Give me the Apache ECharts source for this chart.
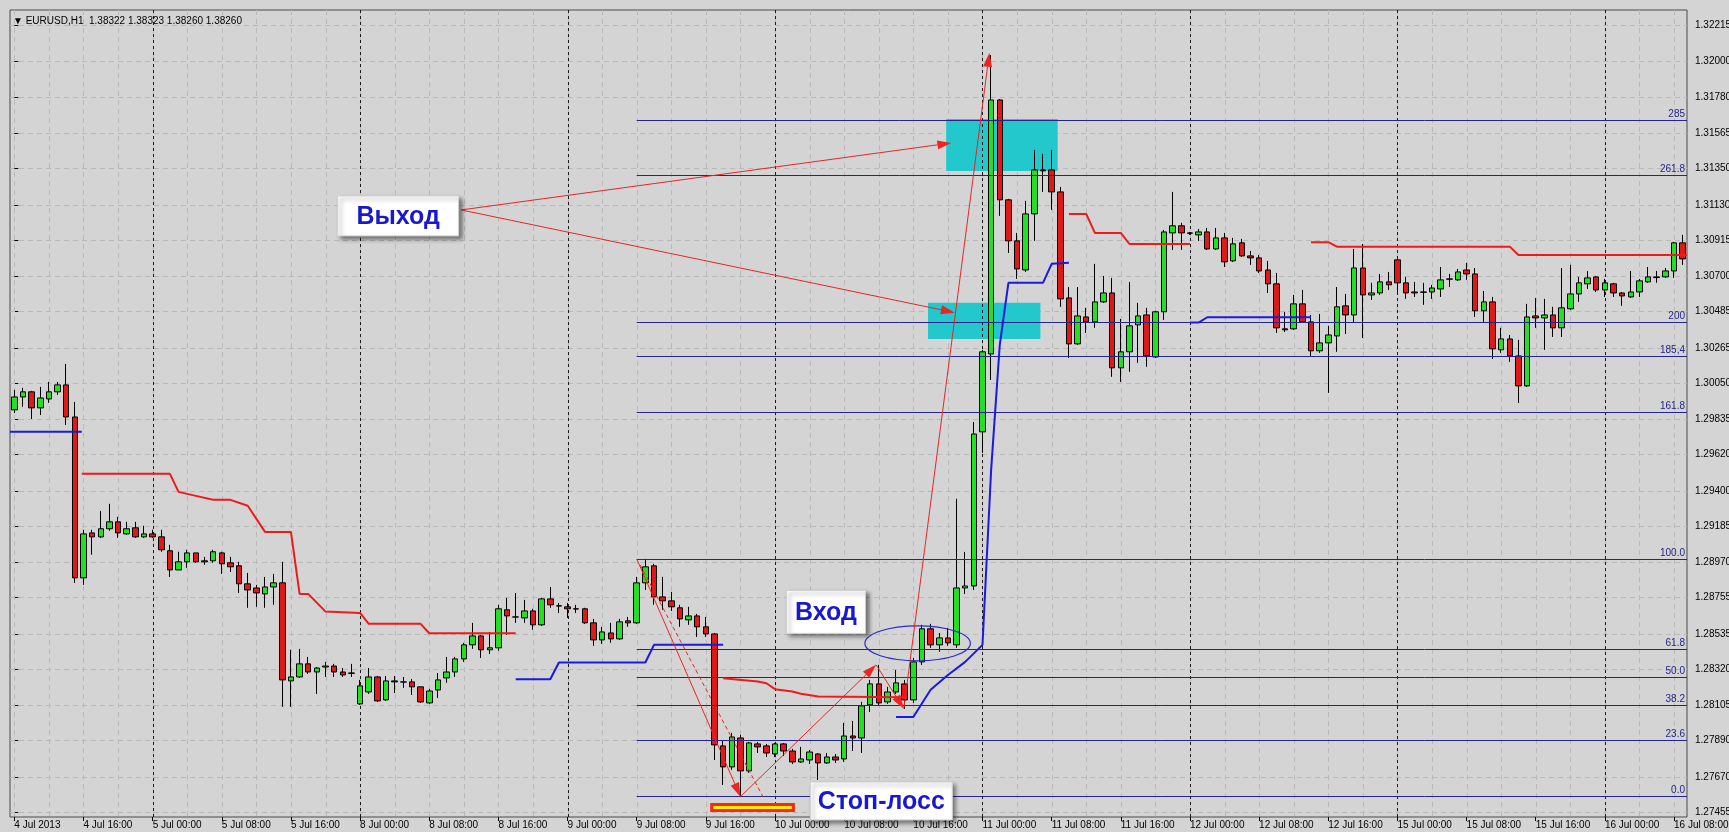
<!DOCTYPE html>
<html>
<head>
<meta charset="utf-8">
<script src="https://cdn.jsdelivr.net/npm/echarts@6/dist/echarts.min.js"></script>
<style>
html,body{margin:0;padding:0;background:#d4d4d4}
#main{width:1729px;height:832px}
</style>
</head>
<body>
<div id="main"></div>
<script>
// EURUSD H1, 4 Jul 08:00 .. 16 Jul 09:00
var days = ['4 Jul', '5 Jul', '8 Jul', '9 Jul', '10 Jul', '11 Jul', '12 Jul', '15 Jul', '16 Jul'];
var firstHour = 8, lastHour = 9;

var open = [1.29890,1.29968,1.29999,1.29902,1.29956,1.29999,1.30041,1.29847,1.28874,1.29146,
1.29122,1.29171,1.29213,1.29140,1.29177,1.29122,1.29140,1.29122,1.29038,1.28922,
1.28971,1.29025,1.28977,1.28977,1.29025,1.28965,1.28947,1.28838,1.28813,1.28777,
1.28819,1.28844,1.28251,1.28275,1.28354,1.28305,1.28335,1.28341,1.28305,1.28299,
1.28112,1.28184,1.28275,1.28136,1.28251,1.28245,1.28245,1.28215,1.28118,1.28196,
1.28269,1.28305,1.28384,1.28469,1.28523,1.28439,1.28451,1.28681,1.28638,1.28632,
1.28674,1.28590,1.28747,1.28705,1.28699,1.28687,1.28687,1.28602,1.28499,1.28541,
1.28505,1.28614,1.28602,1.28844,1.28947,1.28759,1.28735,1.28693,1.28620,1.28644,
1.28578,1.28535,1.27858,1.27731,1.27906,1.27707,1.27870,1.27858,1.27809,1.27870,
1.27827,1.27761,1.27773,1.27809,1.27755,1.27791,1.27779,1.27918,1.27906,1.28106,
1.28233,1.28124,1.28184,1.28233,1.28136,1.28366,1.28566,1.28469,1.28511,1.28469,
1.28813,1.28825,1.29757,1.30228,1.31764,1.31160,1.30912,1.30736,1.31075,1.31341,
1.31341,1.31208,1.30567,1.30289,1.30452,1.30422,1.30543,1.30597,1.30144,1.30241,
1.30404,1.30464,1.30210,1.30483,1.30960,1.31003,1.30960,1.30948,1.30966,1.30863,
1.30930,1.30791,1.30900,1.30821,1.30809,1.30736,1.30652,1.30380,1.30380,1.30531,
1.30422,1.30247,1.30295,1.30337,1.30519,1.30464,1.30748,1.30585,1.30597,1.30664,
1.30797,1.30658,1.30603,1.30603,1.30603,1.30621,1.30682,1.30676,1.30736,1.30712,
1.30489,1.30543,1.30253,1.30319,1.30216,1.30035,1.30458,1.30446,1.30464,1.30386,
1.30501,1.30591,1.30652,1.30694,1.30615,1.30652,1.30597,1.30573,1.30603,1.30664,
1.30690,1.30694,1.30730,1.30900];

var close = [1.29968,1.29999,1.29902,1.29962,1.29999,1.30041,1.29847,1.28874,1.29140,1.29122,
1.29171,1.29213,1.29146,1.29171,1.29122,1.29140,1.29122,1.29044,1.28922,1.28971,
1.29025,1.28971,1.28971,1.29032,1.28959,1.28941,1.28838,1.28801,1.28783,1.28819,
1.28844,1.28257,1.28275,1.28354,1.28305,1.28329,1.28341,1.28305,1.28287,1.28297,
1.28221,1.28275,1.28130,1.28251,1.28245,1.28244,1.28215,1.28124,1.28190,1.28257,
1.28305,1.28384,1.28469,1.28523,1.28439,1.28451,1.28687,1.28644,1.28637,1.28674,
1.28590,1.28747,1.28711,1.28704,1.28687,1.28686,1.28602,1.28499,1.28547,1.28505,
1.28608,1.28602,1.28844,1.28941,1.28759,1.28735,1.28699,1.28626,1.28644,1.28578,
1.28535,1.27864,1.27731,1.27912,1.27707,1.27876,1.27852,1.27815,1.27870,1.27827,
1.27761,1.27779,1.27821,1.27755,1.27791,1.27773,1.27918,1.27906,1.28100,1.28233,
1.28118,1.28184,1.28239,1.28136,1.28366,1.28566,1.28469,1.28511,1.28481,1.28813,
1.28825,1.29744,1.30241,1.31764,1.31160,1.30912,1.30742,1.31075,1.31341,1.31335,
1.31208,1.30561,1.30289,1.30458,1.30422,1.30543,1.30597,1.30144,1.30241,1.30398,
1.30458,1.30216,1.30483,1.30966,1.31003,1.30960,1.30958,1.30966,1.30863,1.30930,
1.30785,1.30894,1.30821,1.30809,1.30730,1.30652,1.30386,1.30374,1.30531,1.30422,
1.30247,1.30295,1.30343,1.30513,1.30464,1.30748,1.30585,1.30597,1.30664,1.30646,
1.30658,1.30597,1.30597,1.30601,1.30627,1.30676,1.30680,1.30724,1.30712,1.30489,
1.30543,1.30259,1.30319,1.30216,1.30035,1.30452,1.30446,1.30464,1.30386,1.30507,
1.30591,1.30658,1.30688,1.30615,1.30658,1.30597,1.30579,1.30603,1.30670,1.30694,
1.30694,1.30730,1.30900,1.30803];

var low = [1.29871,1.29908,1.29835,1.29859,1.29932,1.29981,1.29799,1.28844,1.28832,1.29014,
1.29116,1.29159,1.29116,1.29134,1.29116,1.29116,1.29116,1.29032,1.28880,1.28922,
1.28935,1.28965,1.28953,1.28965,1.28898,1.28910,1.28783,1.28693,1.28699,1.28693,
1.28711,1.28094,1.28094,1.28269,1.28293,1.28172,1.28275,1.28275,1.28275,1.28275,
1.28106,1.28172,1.28124,1.28130,1.28178,1.28209,1.28166,1.28118,1.28112,1.28148,
1.28239,1.28275,1.28366,1.28445,1.28390,1.28414,1.28433,1.28529,1.28602,1.28602,
1.28560,1.28584,1.28693,1.28662,1.28632,1.28662,1.28596,1.28463,1.28475,1.28481,
1.28499,1.28578,1.28596,1.28801,1.28711,1.28681,1.28674,1.28578,1.28590,1.28517,
1.28517,1.27773,1.27622,1.27713,1.27556,1.27695,1.27815,1.27791,1.27791,1.27797,
1.27749,1.27755,1.27749,1.27652,1.27749,1.27755,1.27761,1.27827,1.27815,1.28063,
1.28106,1.28112,1.28172,1.28082,1.28118,1.28348,1.28451,1.28427,1.28463,1.28451,
1.28777,1.28801,1.29630,1.30071,1.31063,1.30839,1.30682,1.30724,1.30912,1.31208,
1.31099,1.30513,1.30204,1.30283,1.30355,1.30386,1.30537,1.30090,1.30059,1.30120,
1.30174,1.30150,1.30204,1.30434,1.30857,1.30857,1.30948,1.30912,1.30857,1.30857,
1.30754,1.30785,1.30815,1.30767,1.30718,1.30597,1.30355,1.30361,1.30374,1.30416,
1.30216,1.30235,1.29993,1.30241,1.30349,1.30416,1.30325,1.30555,1.30585,1.30615,
1.30597,1.30561,1.30573,1.30525,1.30561,1.30573,1.30633,1.30670,1.30676,1.30452,
1.30422,1.30198,1.30235,1.30180,1.29932,1.30029,1.30386,1.30253,1.30331,1.30331,
1.30495,1.30543,1.30621,1.30603,1.30573,1.30573,1.30519,1.30567,1.30573,1.30658,
1.30658,1.30688,1.30688,1.30767];

var high = [1.30011,1.30023,1.30005,1.30029,1.30059,1.30059,1.30168,1.29938,1.29165,1.29165,
1.29279,1.29322,1.29243,1.29213,1.29213,1.29189,1.29165,1.29165,1.29074,1.29032,
1.29044,1.29025,1.29001,1.29044,1.29032,1.29001,1.28971,1.28904,1.28832,1.28880,
1.28898,1.28971,1.28439,1.28445,1.28396,1.28335,1.28366,1.28354,1.28329,1.28354,
1.28257,1.28329,1.28281,1.28281,1.28281,1.28275,1.28263,1.28215,1.28203,1.28299,
1.28396,1.28396,1.28481,1.28602,1.28529,1.28547,1.28711,1.28753,1.28783,1.28741,
1.28687,1.28753,1.28819,1.28723,1.28723,1.28711,1.28693,1.28626,1.28578,1.28602,
1.28626,1.28638,1.28880,1.28989,1.28959,1.28880,1.28789,1.28711,1.28699,1.28656,
1.28638,1.28541,1.27894,1.27937,1.27925,1.27882,1.27882,1.27870,1.27876,1.27876,
1.27840,1.27852,1.27833,1.27815,1.27815,1.27809,1.27997,1.28009,1.28124,1.28257,
1.28348,1.28215,1.28317,1.28257,1.28390,1.28590,1.28596,1.28541,1.28572,1.29352,
1.29031,1.29817,1.30253,1.32036,1.31770,1.31166,1.30960,1.31154,1.31462,1.31438,
1.31462,1.31238,1.30633,1.30633,1.30507,1.30773,1.30700,1.30688,1.30440,1.30664,
1.30537,1.30507,1.30489,1.30978,1.31208,1.31021,1.30966,1.30984,1.30990,1.30990,
1.30960,1.30930,1.30924,1.30851,1.30827,1.30791,1.30718,1.30483,1.30585,1.30615,
1.30464,1.30470,1.30398,1.30633,1.30591,1.30863,1.30893,1.30658,1.30712,1.30724,
1.30803,1.30694,1.30664,1.30658,1.30646,1.30754,1.30712,1.30742,1.30779,1.30748,
1.30609,1.30573,1.30386,1.30343,1.30313,1.30531,1.30567,1.30561,1.30513,1.30748,
1.30767,1.30694,1.30730,1.30700,1.30682,1.30658,1.30603,1.30730,1.30682,1.30754,
1.30730,1.30748,1.30906,1.30948];

// trailing-stop style indicator: [bar, price] vertices
var redLines = [
  [[7.8,1.29503],[18,1.29503],[19,1.29394],[21,1.29370],[23,1.29346],[25,1.29346],[27,1.29310],[29,1.29152],[32,1.29152],[33,1.28777],[34,1.28777],[36,1.28670],[40,1.28662],[41,1.28596],[47,1.28596],[48,1.28539],[58,1.28539]],
  [[82,1.28267],[86,1.28247],[87,1.28237],[88,1.28201],[90,1.28187],[91,1.28173],[93,1.28156],[103,1.28152]],
  [[122,1.31075],[124,1.31075],[125,1.30960],[128,1.30960],[129,1.30893],[136,1.30893]],
  [[150,1.30904],[152,1.30904],[153,1.30877],[173,1.30877],[174,1.30827],[193.5,1.30827]]
];
var blueLines = [
  [[-0.5,1.29757],[7.8,1.29757]],
  [[58,1.28261],[62,1.28261],[63,1.28362],[73,1.28362],[74,1.28469],[82,1.28469]],
  [[102,1.28033],[104,1.28033],[106,1.28197],[108,1.28287],[110,1.28366],[112,1.28469],[113,1.29527],[114,1.30283],[115,1.30658],[119,1.30658],[120,1.30773],[122,1.30779]],
  [[136,1.30418],[137,1.30418],[138,1.30450],[150,1.30450]]
];

var priceTicks = [1.27455,1.27670,1.27890,1.28105,1.28320,1.28535,1.28755,1.28970,1.29185,1.29400,1.29620,
  1.29835,1.30050,1.30265,1.30485,1.30700,1.30915,1.31130,1.31350,1.31565,1.31780,1.32000,1.32215];

// fibonacci grid from the 9 Jul 08:00 high
var fibStart = 72;
var fibLevels = [1.27556,1.27894,1.28103,1.28272,1.28442,1.28989,1.29875,1.30213,1.30422,1.31308,1.31640];
var fibNames = ['0.0','23.6','38.2','50.0','61.8','100.0','161.8','185,4','200','261.8','285'];

// drawn objects, [bar, price]
var zones = [[107.8,1.31649,120.7,1.31335],[105.7,1.30537,118.7,1.30319]];
var arrows = [
  [51.7,1.31099,108.4,1.31504],
  [51.7,1.31099,108.8,1.30478],
  [72.0,1.28989,84.0,1.27551],
  [84.0,1.27551,99.7,1.28348],
  [99.7,1.28348,102.9,1.28082],
  [102.9,1.28082,112.8,1.32049]
];
var dashedLines = [[72.4,1.28952,86.6,1.27551]];
var entryOval = [[98.4,1.28584,110.6,1.28372]];
var stopMark = [[80.5,1.27513,90.3,1.27458]];
var notes = [[44.4,1.31063],[93.9,1.28668],[100.3,1.27525]];
var noteTexts = ['Выход','Вход','Стоп-лосс'];
var noteSizes = [[121,40],[79,43],[142,38]];

var times = [];
days.forEach(function (d, k) {
  var h0 = k === 0 ? firstHour : 0;
  var h1 = k === days.length - 1 ? lastHour : 23;
  for (var h = h0; h <= h1; h++) times.push(d + ' ' + (h < 10 ? '0' : '') + h + ':00');
});
var candles = open.map(function (o, i) { return [o, close[i], low[i], high[i]]; });
var dayStarts = [], gridBars = [];
times.forEach(function (t, i) {
  if (/ 00:00$/.test(t)) dayStarts.push([i, 1.28]);
  if (i % 4 === 0) gridBars.push([i, 1.28]);
});

var FONT = '"Liberation Sans", Arial, sans-serif';

function vLine(color, dash) {
  return function (params, api) {
    var cs = params.coordSys;
    var x = Math.round(api.coord([api.value(0), api.value(1)])[0]) + 0.5;
    return { type: 'line', shape: { x1: x, y1: cs.y, x2: x, y2: cs.y + cs.height },
      style: { stroke: color, lineWidth: 1, lineDash: dash } };
  };
}

var myChart = echarts.init(document.getElementById('main'));

var series = [
  { type: 'custom', coordinateSystem: 'cartesian2d', xAxisIndex: 1, z: 1, silent: true,
    data: gridBars, renderItem: vLine('#b9b9b9', [5, 4]) },
  { type: 'custom', coordinateSystem: 'cartesian2d', xAxisIndex: 1, z: 2, silent: true,
    data: zones,
    renderItem: function (params, api) {
      var a = api.coord([api.value(0), api.value(1)]), b = api.coord([api.value(2), api.value(3)]);
      return { type: 'rect', shape: { x: a[0], y: a[1], width: b[0] - a[0], height: b[1] - a[1] },
        style: { fill: '#22c8cc' } };
    } },
  { type: 'custom', coordinateSystem: 'cartesian2d', xAxisIndex: 1, z: 3, silent: true,
    data: dayStarts, renderItem: vLine('#1a1a1a', [3, 3]) },
  { type: 'candlestick', xAxisIndex: 0, z: 5, barWidth: 6, data: candles,
    itemStyle: { color: '#22e022', color0: '#e01818', borderColor: '#000', borderColor0: '#000', borderWidth: 1 } },
  { type: 'custom', coordinateSystem: 'cartesian2d', xAxisIndex: 1, z: 6, silent: true,
    data: fibLevels.map(function (p) { return [fibStart, p]; }),
    renderItem: function (params, api) {
      var a = api.coord([api.value(0), api.value(1)]);
      var right = params.coordSys.x + params.coordSys.width;
      var y = Math.round(a[1]) + 0.5;
      return { type: 'group', children: [
        { type: 'line', shape: { x1: a[0], y1: y, x2: right, y2: y }, style: { stroke: '#24248e', lineWidth: 1 } },
        { type: 'text', x: right - 2, y: y - 1,
          style: { text: fibNames[params.dataIndex], fill: '#24248e', font: '10px ' + FONT, align: 'right', verticalAlign: 'bottom' } }
      ] };
    } }
];

redLines.forEach(function (seg) {
  series.push({ type: 'line', xAxisIndex: 1, z: 7, data: seg, symbol: 'none', silent: true,
    lineStyle: { color: '#f01a1a', width: 2 } });
});
blueLines.forEach(function (seg) {
  series.push({ type: 'line', xAxisIndex: 1, z: 7, data: seg, symbol: 'none', silent: true,
    lineStyle: { color: '#1a1ae0', width: 2 } });
});

series.push(
  { type: 'custom', coordinateSystem: 'cartesian2d', xAxisIndex: 1, z: 9, silent: true,
    data: stopMark,
    renderItem: function (params, api) {
      var a = api.coord([api.value(0), api.value(1)]), b = api.coord([api.value(2), api.value(3)]);
      return { type: 'rect', shape: { x: a[0] + 1.5, y: a[1] + 1.5, width: b[0] - a[0] - 3, height: b[1] - a[1] - 3 },
        style: { fill: '#ffea00', stroke: '#f52a10', lineWidth: 3 } };
    } },
  { type: 'custom', coordinateSystem: 'cartesian2d', xAxisIndex: 1, z: 9, silent: true,
    data: entryOval,
    renderItem: function (params, api) {
      var a = api.coord([api.value(0), api.value(1)]), b = api.coord([api.value(2), api.value(3)]);
      var cx = (a[0] + b[0]) / 2, cy = (a[1] + b[1]) / 2, rx = (b[0] - a[0]) / 2, ry = (b[1] - a[1]) / 2;
      var d = 'M' + (cx - rx) + ' ' + cy + ' A' + rx + ' ' + ry + ' 0 1 0 ' + (cx + rx) + ' ' + cy +
        ' A' + rx + ' ' + ry + ' 0 1 0 ' + (cx - rx) + ' ' + cy + ' Z';
      return { type: 'path', shape: { pathData: d, x: cx - rx, y: cy - ry, width: 2 * rx, height: 2 * ry, layout: 'cover' },
        style: { fill: 'none', stroke: '#2a2ad0', lineWidth: 1.2 } };
    } },
  { type: 'custom', coordinateSystem: 'cartesian2d', xAxisIndex: 1, z: 10, silent: true,
    data: dashedLines,
    renderItem: function (params, api) {
      var a = api.coord([api.value(0), api.value(1)]), b = api.coord([api.value(2), api.value(3)]);
      return { type: 'line', shape: { x1: a[0], y1: a[1], x2: b[0], y2: b[1] },
        style: { stroke: '#ec2424', lineWidth: 1, lineDash: [4, 3] } };
    } },
  { type: 'custom', coordinateSystem: 'cartesian2d', xAxisIndex: 1, z: 10, silent: true,
    data: arrows,
    renderItem: function (params, api) {
      var a = api.coord([api.value(0), api.value(1)]), b = api.coord([api.value(2), api.value(3)]);
      var dx = b[0] - a[0], dy = b[1] - a[1], len = Math.sqrt(dx * dx + dy * dy);
      var ux = dx / len, uy = dy / len, hl = 14, hw = 4.5;
      var bx = b[0] - ux * hl, by = b[1] - uy * hl;
      return { type: 'group', children: [
        { type: 'line', shape: { x1: a[0], y1: a[1], x2: bx, y2: by }, style: { stroke: '#ec2424', lineWidth: 1 } },
        { type: 'polygon', shape: { points: [[b[0], b[1]], [bx - uy * hw, by + ux * hw], [bx + uy * hw, by - ux * hw]] },
          style: { fill: '#ec2424' } }
      ] };
    } },
  { type: 'custom', coordinateSystem: 'cartesian2d', xAxisIndex: 1, z: 11, silent: true,
    data: notes,
    renderItem: function (params, api) {
      var c = api.coord([api.value(0), api.value(1)]);
      var s = noteSizes[params.dataIndex];
      return { type: 'group', children: [
        { type: 'rect', shape: { x: c[0] - s[0] / 2, y: c[1] - s[1] / 2, width: s[0], height: s[1] },
          style: { fill: '#ffffff', stroke: '#d0d0d0', lineWidth: 1, shadowBlur: 4, shadowOffsetX: 3, shadowOffsetY: 3,
            shadowColor: 'rgba(0,0,0,0.45)' } },
        { type: 'text', x: c[0], y: c[1] + 1,
          style: { text: noteTexts[params.dataIndex], fill: '#1818d0', font: 'bold 25px ' + FONT,
            align: 'center', verticalAlign: 'middle' } }
      ] };
    } }
);

var option = {
  animation: false,
  backgroundColor: '#d4d4d4',
  title: {
    text: '\u25BC EURUSD,H1  1.38322 1.38323 1.38260 1.38260',
    left: 13, top: 16, padding: 0,
    textStyle: { fontSize: 10, fontWeight: 'normal', color: '#000', fontFamily: FONT }
  },
  grid: {
    left: 10, right: 42, top: 10, bottom: 15,
    show: true, backgroundColor: '#d4d4d4', borderColor: '#4a4a4a', borderWidth: 1,
    containLabel: false, outerBoundsMode: 'none'
  },
  xAxis: [
    {
      type: 'category', data: times, boundaryGap: true,
      axisLine: { show: false },
      axisTick: { show: true, interval: 7, alignWithLabel: true, length: 4, lineStyle: { color: '#000' } },
      axisLabel: {
        interval: 7, align: 'left', margin: 3, fontSize: 10, color: '#000', fontFamily: FONT,
        formatter: function (v, i) { return i === 0 ? '4 Jul 2013' : v; }
      },
      splitLine: { show: false }
    },
    { type: 'value', min: -0.5, max: 193.5, show: false }
  ],
  yAxis: {
    type: 'value', position: 'right', min: 1.27428, max: 1.32308, scale: true,
    axisLine: { show: false },
    axisTick: { show: true, customValues: priceTicks, length: 4, lineStyle: { color: '#000' } },
    axisLabel: { customValues: priceTicks, margin: 8, fontSize: 10, color: '#000', fontFamily: FONT,
      formatter: function (v) { return v.toFixed(5); } },
    splitLine: { show: true, lineStyle: { color: '#b9b9b9', type: [5, 4], width: 1 } }
  },
  series: series
};

myChart.setOption(option);
</script>
</body>
</html>
